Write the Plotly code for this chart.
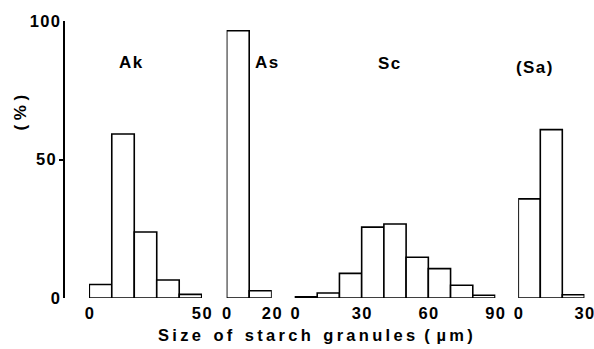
import plotly.graph_objects as go

# ---- data ----
ak_bins = [5, 15, 25, 35, 45]
ak_pct = [4.9, 59.2, 23.8, 6.5, 1.3]

as_bins = [5, 15]
as_pct = [96.5, 2.6]

sc_bins = [5, 15, 25, 35, 45, 55, 65, 75, 85]
sc_pct = [0.4, 1.8, 8.9, 25.6, 26.7, 14.7, 10.6, 4.6, 1.0]

sa_bins = [5, 15, 25]
sa_pct = [35.8, 60.8, 1.2]

panel_names = ["Ak", "As", "Sc", "(Sa)"]
x_ranges = [[0, 50], [0, 20], [0, 90], [0, 30]]
x_ticks = [[0, 50], [0, 20], [0, 30, 60, 90], [0, 30]]
bin_width = 10

W, H = 594, 349
FONT = "Liberation Sans"
HS = "\u200a"  # hair space
TS = "\u2009"  # thin space

fig = go.Figure()
series = [(ak_bins, ak_pct), (as_bins, as_pct), (sc_bins, sc_pct), (sa_bins, sa_pct)]
axis_ids = ["x", "x2", "x3", "x4"]
for (bx, by), xid in zip(series, axis_ids):
    fig.add_trace(go.Bar(
        x=bx, y=by, width=[bin_width] * len(bx),
        xaxis=xid, yaxis="y",
        marker=dict(color="white", line=dict(color="black", width=1.6)),
        showlegend=False, hoverinfo="x+y",
    ))

# pixel layout of the panels
plot_top, plot_bottom = 20.7, 298.3
domains_px = [(89.3, 201.7), (226.7, 271.7), (295.0, 495.0), (518.3, 584.3)]
axis_x_px = 64.0

def b(s):
    return "<b>" + s + "</b>"

def spaced(s, sep=HS):
    return sep.join(list(s))

layout = dict(
    width=W, height=H,
    margin=dict(l=0, r=0, t=plot_top, b=H - plot_bottom, autoexpand=False),
    paper_bgcolor="white", plot_bgcolor="white",
    font=dict(family=FONT, color="black", size=16),
    barmode="overlay",
)
for i, (xid, rng, tv, (a, bb)) in enumerate(zip(axis_ids, x_ranges, x_ticks, domains_px)):
    key = "xaxis" if i == 0 else f"xaxis{i+1}"
    span = rng[1] - rng[0]
    pad = span * 0.002
    layout[key] = dict(
        domain=[(a - 0.002 * (bb - a)) / W, (bb + 0.002 * (bb - a)) / W],
        range=[rng[0] - pad, rng[1] + pad], anchor="y",
        tickvals=tv, ticktext=[b(spaced(str(v))) for v in tv],
        showline=False, showgrid=False, zeroline=False, ticks="",
        ticklabeloverflow="allow", ticklabelstandoff=3,
        tickfont=dict(size=16.5, family=FONT, color="black"),
        fixedrange=True,
    )
layout["yaxis"] = dict(
    range=[0, 100], anchor="free", position=axis_x_px / W,
    tickvals=[0, 100], ticktext=[b("0"), b(spaced("100"))],
    ticks="inside", ticklen=9, tickwidth=1.5, tickcolor="black",
    showline=True, linecolor="black", linewidth=1.5,
    showgrid=False, zeroline=False,
    tickfont=dict(size=16.5, family=FONT, color="black"),
)
layout["yaxis2"] = dict(
    range=[0, 100], anchor="free", position=axis_x_px / W, overlaying="y",
    tickvals=[50], ticktext=[b(spaced("50"))],
    ticks="outside", ticklen=5, tickwidth=1.5, tickcolor="black",
    showline=False, showgrid=False, zeroline=False,
    tickfont=dict(size=16.5, family=FONT, color="black"),
)
fig.update_layout(**layout)
fig.add_trace(go.Scatter(x=[None], y=[None], xaxis="x", yaxis="y2", showlegend=False))

ph = plot_bottom - plot_top
def py(p):
    return (plot_bottom - p) / ph

label_pos = [(130.5, 62), (266.5, 62), (389, 63.5), (534, 67.5)]
for name, (lx, ly) in zip(panel_names, label_pos):
    fig.add_annotation(text=b(spaced(name)), x=lx / W, y=py(ly), xref="paper", yref="paper",
                       showarrow=False, xanchor="center", yanchor="middle",
                       font=dict(size=17, family=FONT, color="black"))

fig.add_annotation(text=b("( % )"), x=20.5 / W, y=py(113), xref="paper", yref="paper",
                   textangle=-90, showarrow=False, xanchor="center", yanchor="middle",
                   font=dict(size=17, family=FONT, color="black"))

words = ["Size", "of", "starch", "granules"]
title = ("  " + TS).join(spaced(w, TS) for w in words) + "  (" + TS + TS + spaced("µm)", TS)
fig.add_annotation(text=b(title), x=315 / W, y=py(335.5), xref="paper", yref="paper",
                   showarrow=False, xanchor="center", yanchor="middle",
                   font=dict(size=16.5, family=FONT, color="black"))

fig.write_html("out.html")
